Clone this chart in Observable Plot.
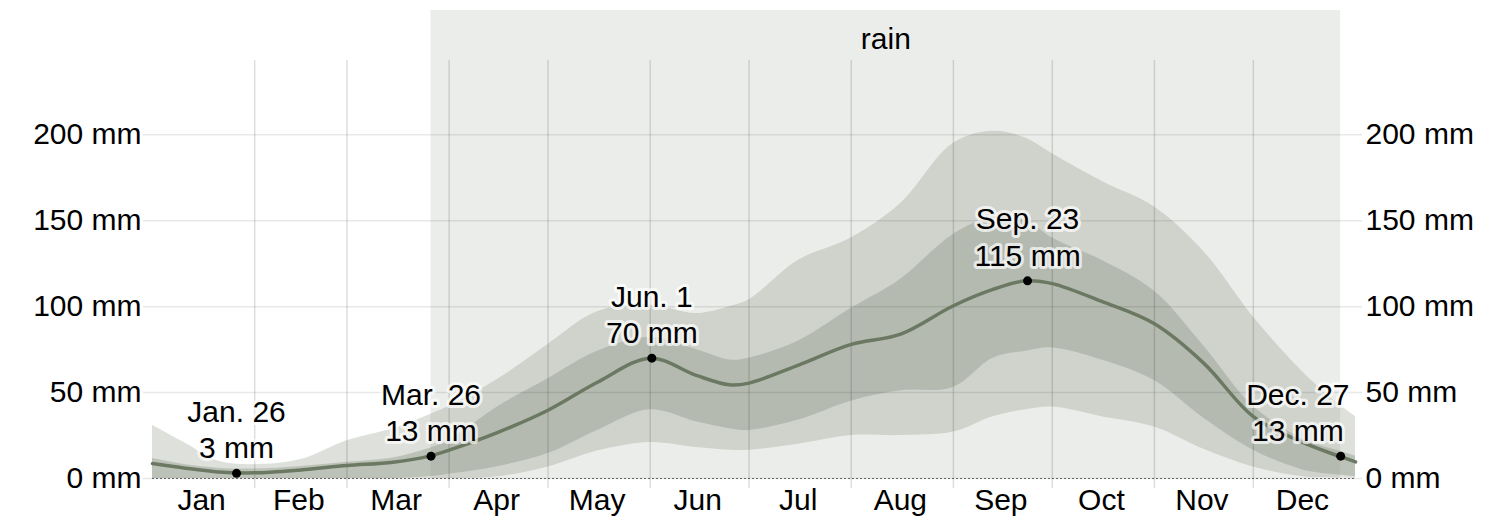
<!DOCTYPE html>
<html>
<head>
<meta charset="utf-8">
<script src="https://cdn.jsdelivr.net/npm/d3@7"></script>
<script src="https://cdn.jsdelivr.net/npm/@observablehq/plot@0.6"></script>
<style>
  body { margin: 0; background: #fff; }
  #chart svg { display: block; }
</style>
</head>
<body>
<div id="chart"></div>
<script>
// Day of year (Jan 1 = 0) for the sampled points of the rainfall curves
const days = [0, 10, 20, 31, 45, 59, 73, 84, 90, 105, 120, 135, 151, 165, 175, 181, 196, 212, 227, 243, 255, 265, 273, 288, 304, 319, 334, 349, 360, 365];
// 31-day rainfall (mm): median and percentile bands
const p50 = [8.7, 6, 3.8, 3.3, 5, 7.5, 9.5, 13, 16.5, 27, 39.7, 56, 70, 60, 54.5, 55.5, 66, 78, 84, 100.5, 110, 115, 113.4, 103, 90, 67, 36, 21, 13, 9.7];
const p75 = [11.6, 8, 6, 5.5, 7, 9.5, 12, 17.5, 22, 42, 58, 74, 82, 75, 69, 70, 80, 99, 116, 142, 152, 150, 140, 127, 109, 77, 42, 23, 16, 13];
const p25 = [0, 0, 0, 0, 0, 0, 0, 1, 2.5, 7, 14.5, 28, 40, 33, 29, 28, 34, 45, 51, 53, 70, 74, 76, 69, 57, 35, 16.5, 5, 2, 1];
const p90 = [31, 20.5, 10, 8, 11, 22, 29, 37, 42, 58, 78, 97, 101, 96, 100, 104, 127, 140, 160, 195, 202, 198, 189, 173, 158, 132, 94, 62, 43, 36];
const p10 = [0, 0, 0, 0, 0, 0, 0, 0, 0, 1, 6.7, 16, 21, 18, 16.5, 16.5, 20, 25, 25, 27, 36, 40, 41.6, 36, 30, 17, 6.7, 1, 0.3, 0];

// Annotated points
const labelDays = [25, 84, 151, 265, 360];
const labelDates = ["Jan. 26", "Mar. 26", "Jun. 1", "Sep. 23", "Dec. 27"];
const labelValues = [3, 13, 70, 115, 13];

// Axis ticks
const monthNames = ["Jan", "Feb", "Mar", "Apr", "May", "Jun", "Jul", "Aug", "Sep", "Oct", "Nov", "Dec"];
const monthStarts = [0, 31, 59, 90, 120, 151, 181, 212, 243, 273, 304, 334, 365];
const yTicks = [0, 50, 100, 150, 200];
const seasonName = "rain";

const rows = days.map((d, i) => ({x: d, p10: p10[i], p25: p25[i], p50: p50[i], p75: p75[i], p90: p90[i]}));
const labels = labelDays.map((d, i) => ({x: d + 0.5, date: labelDates[i], v: labelValues[i]}));
const months = monthNames.map((m, i) => ({name: m, x: (monthStarts[i] + monthStarts[i + 1]) / 2 - 0.6}));
const gridMonths = monthStarts.slice(1, 12);

const yMax = 243.2;
const yHeaderTop = 272.3;
const season = [{x1: labels[1].x, x2: labels[4].x, y1: 0, y2: yHeaderTop}];

const font = "'Liberation Sans', Arial, Helvetica, sans-serif";
const fs = 30;

const chart = Plot.plot({
  width: 1506,
  height: 524,
  marginLeft: 152,
  marginRight: 151,
  marginTop: 60,
  marginBottom: 46,
  x: {domain: [0, 365], axis: null},
  y: {domain: [0, yMax], axis: null},
  style: {fontFamily: font, fontSize: fs + "px", color: "#000", background: "#fff", overflow: "visible"},
  marks: [
    Plot.rect(season, {x1: "x1", x2: "x2", y1: "y1", y2: "y2", fill: "#ebedea"}),
    Plot.text([seasonName], {x: (labels[1].x + labels[4].x) / 2, y: 255.6, text: d => d, fill: "#000", fontSize: fs, lineAnchor: "middle"}),
    Plot.areaY(rows, {x: "x", y1: "p10", y2: "p90", fill: "#8e9788", fillOpacity: 0.3, curve: "catmull-rom"}),
    Plot.areaY(rows, {x: "x", y1: "p25", y2: "p75", fill: "#8e9788", fillOpacity: 0.4, curve: "catmull-rom"}),
    Plot.ruleY(yTicks, {stroke: "#000", strokeOpacity: 0.09, strokeWidth: 1.5, insetLeft: -9, insetRight: -7}),
    Plot.ruleX(gridMonths, {stroke: "#000", strokeOpacity: 0.13, strokeWidth: 1.5, insetBottom: -10}),
    Plot.ruleY([0], {stroke: "#666", strokeWidth: 1, strokeDasharray: "2,2"}),
    Plot.line(rows, {x: "x", y: "p50", stroke: "#6b7862", strokeWidth: 3.5, curve: "catmull-rom"}),
    Plot.dot(labels, {x: "x", y: "v", r: 4.5, fill: "#000", stroke: "none"}),
    Plot.text(labels, {
      x: d => Math.min(d.x, 365 - 17.5),
      y: "v",
      text: d => `${d.date}\n${d.v} mm`,
      lineAnchor: "bottom",
      lineHeight: 1.22,
      dy: -15,
      fill: "#000",
      stroke: "#fff",
      strokeWidth: 6,
      strokeOpacity: 0.7,
      fontSize: fs
    }),
    Plot.text(months, {x: "x", text: "name", frameAnchor: "bottom", lineAnchor: "bottom", dy: 31, fill: "#000", fontSize: fs}),
    Plot.axisY({anchor: "left", ticks: yTicks, tickFormat: d => `${d} mm`, tickSize: 0, tickPadding: 11, label: null, fontSize: fs}),
    Plot.axisY({anchor: "right", ticks: yTicks, tickFormat: d => `${d} mm`, tickSize: 0, tickPadding: 10, label: null, fontSize: fs})
  ]
});

document.getElementById("chart").appendChild(chart);
</script>
</body>
</html>
